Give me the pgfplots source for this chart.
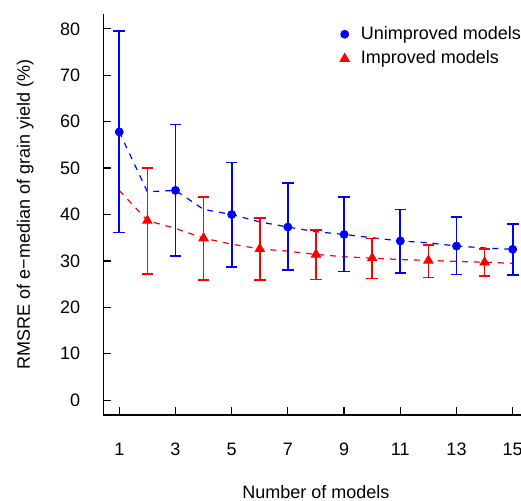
\documentclass[border=0pt]{standalone}
\usepackage{fontspec}
\setmainfont{Liberation Sans}
\usepackage{pgfplots}
\usepackage{pgfplotstable}
\pgfplotsset{compat=1.18}

\definecolor{rblue}{RGB}{0,0,255}
\definecolor{rred}{RGB}{255,0,0}

% points with the ends of their error bars
\pgfplotstableread{
x  y    lo   hi
1  57.8 36.1 79.5
3  45.2 31.0 59.4
5  40.0 28.7 51.2
7  37.3 28.0 46.8
9  35.7 27.7 43.8
11 34.3 27.4 41.1
13 33.2 27.1 39.4
15 32.5 26.9 38.0
}\unimproved

\pgfplotstableread{
x  y    lo   hi
2  38.7 27.2 50.0
4  34.9 25.9 43.7
6  32.6 25.9 39.3
8  31.4 26.0 36.6
10 30.6 26.2 34.8
12 30.1 26.4 33.5
14 29.7 26.7 32.6
}\improved

% dashed curves
\pgfplotstableread{
x  y
1  57.8
2  44.9
3  45.2
4  41.1
5  40.0
6  38.4
7  37.3
8  36.3
9  35.7
10 35.0
11 34.3
12 33.9
13 33.2
14 32.8
15 32.5
}\unimprovedline

\pgfplotstableread{
x  y
1  45.2
2  38.7
3  37.0
4  34.9
5  33.6
6  32.6
7  32.1
8  31.4
9  30.9
10 30.6
11 30.3
12 30.1
13 29.9
14 29.7
15 29.5
}\improvedline

\begin{document}
\begin{tikzpicture}
\path[use as bounding box] (-51.65pt,-42.5pt) rectangle (208.85pt,207.5pt);
\begin{axis}[
    scale only axis,
    width=208.85pt, height=200.5pt,
    xmin=0.431, xmax=15.295,
    ymin=-3.2, ymax=83.2,
    axis x line*=bottom, axis y line*=left,
    axis line style={-, black, line width=0.6pt},
    tick align=inside,
    major tick length=4pt,
    tick style={black, line width=0.6pt},
    xtick={1,3,...,15},
    ytick={0,10,...,80},
    /pgf/number format/assume math mode=true,
    font=\fontsize{9}{11}\selectfont,
    ticklabel style={font=\fontsize{9}{11}\selectfont},
    yticklabel style={xshift=-8pt},
    xticklabel style={yshift=-10.4pt},
    xlabel={Number of models},
    ylabel={RMSRE of e−median of grain yield (\%)},
    xlabel style={at={(axis description cs:0.509,-0.207)}, anchor=base},
    ylabel style={at={(axis description cs:-0.1755,0.5)}, anchor=base},
    legend cell align=left,
    legend style={draw=none, fill=none, inner sep=0pt,
        at={(axis description cs:0.5555,0.978)}, anchor=north west,
        row sep=1.2pt,
        nodes={inner sep=1.5pt, font=\fontsize{9}{11}\selectfont}},
    legend image code/.code={
        \path[draw=none, fill=none] (-4.5pt,0pt) (6.6pt,0pt);
        \draw[#1, only marks] plot coordinates {(0pt,0pt)};},
]
\addplot[rblue, dash pattern=on 3pt off 3pt, line width=0.6pt, forget plot]
    table[x=x, y=y] {\unimprovedline};
\addplot[rred, dash pattern=on 3pt off 3pt, line width=0.6pt, forget plot]
    table[x=x, y=y] {\improvedline};

\addplot[rblue, only marks, mark=*, mark size=2pt,
    error bars/.cd, y dir=both, y explicit,
    error bar style={line width=0.85pt, rblue},
    error mark options={rotate=90, mark size=2.9pt, line width=0.85pt, rblue}]
    table[x=x, y=y,
        y error plus expr=\thisrow{hi}-\thisrow{y},
        y error minus expr=\thisrow{y}-\thisrow{lo}] {\unimproved};
\addlegendentry{Unimproved models}

\addplot[rred, only marks, mark=triangle*, mark size=2.7pt,
    error bars/.cd, y dir=both, y explicit,
    error bar style={line width=0.85pt, rred},
    error mark options={rotate=90, mark size=2.9pt, line width=0.85pt, rred}]
    table[x=x, y=y,
        y error plus expr=\thisrow{hi}-\thisrow{y},
        y error minus expr=\thisrow{y}-\thisrow{lo}] {\improved};
\addlegendentry{Improved models}
\end{axis}
\end{tikzpicture}
\end{document}
